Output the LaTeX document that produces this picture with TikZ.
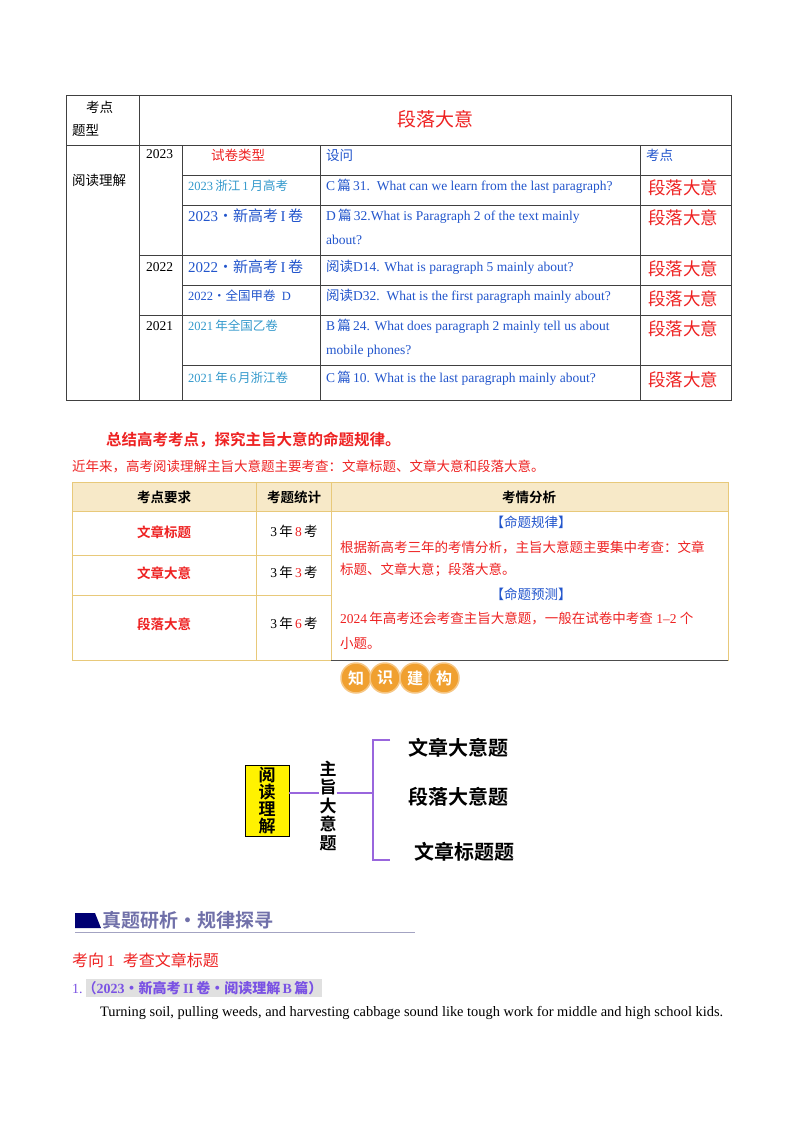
\documentclass[tikz,border=0pt]{standalone}
\usepackage{fontspec}
\setmainfont{Liberation Serif}
\newfontfamily\cjk{Noto Sans CJK SC}
\newfontfamily\cjkb{Noto Sans CJK SC Bold}
\definecolor{tblue}{HTML}{2255CC}
\definecolor{lblue}{HTML}{3399CC}
\definecolor{tred}{HTML}{EE2222}
\definecolor{tan}{HTML}{F7E9C8}
\definecolor{tanb}{HTML}{E8C97A}
\definecolor{purp}{HTML}{9966DD}
\definecolor{orng}{HTML}{F0A030}
\begin{document}
\begin{tikzpicture}[x=1pt,y=-1pt,
  g/.style={draw=black!75,line width=0.8pt},
  t/.style={anchor=west,inner sep=0pt,font=\cjk\fontsize{13.5}{16}\selectfont},
  kd/.style={anchor=west,inner sep=0pt,text=tred,font=\cjk\fontsize{17.5}{20}\selectfont},
  tb/.style={draw=tanb,line width=1pt},
  mm/.style={anchor=west,inner sep=0pt,font=\cjkb\fontsize{20}{22}\selectfont}]
\useasboundingbox (0,0) rectangle (800,1132);
\fill[white] (0,0) rectangle (800,1132);
% table 1
\draw[g] (66,95) rectangle (731,400);
\draw[g] (66,145) -- (731,145);
\draw[g] (139,95) -- (139,400);
\draw[g] (182,145) -- (182,400);
\draw[g] (320,145) -- (320,400);
\draw[g] (640,145) -- (640,400);
\foreach \y in {175,205,285,365} \draw[g] (182,\y) -- (731,\y);
\foreach \y in {255,315} \draw[g] (139,\y) -- (731,\y);
\node[t] (a1) at (86,107) {考点};
\node[t] (a2) at (72,130) {题型};
\node[t,text=tred,font=\cjk\fontsize{19}{21}\selectfont,anchor=center] (a3) at (435,119) {段落大意};
\node[t] (a4) at (72,180) {阅读理解};
\node[t,font=\rmfamily\fontsize{13.5}{16}\selectfont] (y1) at (146,154) {2023};
\node[t,font=\rmfamily\fontsize{13.5}{16}\selectfont] (y2) at (146,267) {2022};
\node[t,font=\rmfamily\fontsize{13.5}{16}\selectfont] (y3) at (146,326) {2021};
\node[t,text=tred] (h1) at (211,155) {试卷类型};
\node[t,text=tblue] (h2) at (326,155) {设问};
\node[t,text=tblue] (h3) at (646,155) {考点};
\node[t,text=lblue,font=\cjk\fontsize{12.5}{14}\selectfont] (r1) at (188,186) {\rmfamily 2023\,\cjk 浙江\,\rmfamily 1\,\cjk 月高考};
\node[t,text=tblue,font=\cjk\fontsize{15}{17}\selectfont] (r2) at (188,216) {\rmfamily 2023\cjk·新高考\rmfamily\,I\,\cjk 卷};
\node[t,text=tblue,font=\cjk\fontsize{15}{17}\selectfont] (r3) at (188,267) {\rmfamily 2022\cjk·新高考\rmfamily\,I\,\cjk 卷};
\node[t,text=tblue,font=\cjk\fontsize{12.5}{14}\selectfont] (r4) at (188,296) {\rmfamily 2022\cjk·全国甲卷\rmfamily\ \ D};
\node[t,text=lblue,font=\cjk\fontsize{12.5}{14}\selectfont] (r5) at (188,326) {\rmfamily 2021\,\cjk 年全国乙卷};
\node[t,text=lblue,font=\cjk\fontsize{12.5}{14}\selectfont] (r6) at (188,378) {\rmfamily 2021\,\cjk 年\rmfamily\,6\,\cjk 月浙江卷};
\begin{scope}[every node/.append style={text=tblue,font=\cjk\fontsize{13}{16}\selectfont}]
\node[t] (q1) at (326,186) {\rmfamily C\,\cjk 篇\,\rmfamily 31.\ \ What can we learn from the last paragraph?};
\node[t] (q2) at (326,216) {\rmfamily D\,\cjk 篇\,\rmfamily 32.What is Paragraph 2 of the text mainly};
\node[t] (q2b) at (326,240) {\rmfamily about?};
\node[t] (q3) at (326,267) {阅读\rmfamily D14. What is paragraph 5 mainly about?};
\node[t] (q4) at (326,296) {阅读\rmfamily D32.\ \ What is the first paragraph mainly about?};
\node[t] (q5) at (326,326) {\rmfamily B\,\cjk 篇\,\rmfamily 24. What does paragraph 2 mainly tell us about};
\node[t] (q5b) at (326,351) {\rmfamily mobile phones?};
\node[t] (q6) at (326,378) {\rmfamily C\,\cjk 篇\,\rmfamily 10. What is the last paragraph mainly about?};
\end{scope}
\foreach \y/\n in {188/k1,218/k2,269/k3,299/k4,329/k5,380/k6} \node[kd] (\n) at (648,\y) {段落大意};
% headings
\node[t,text=tred,font=\cjkb\fontsize{15.5}{18}\selectfont] (s1) at (106,440) {总结高考考点，探究主旨大意的命题规律。};
\node[t,text=tred] (s2) at (72,466) {近年来，高考阅读理解主旨大意题主要考查：文章标题、文章大意和段落大意。};
% table 2
\fill[tan] (72,482) rectangle (728,511);
\draw[tb] (72,482) rectangle (728,660);
\draw[tb] (256,482) -- (256,660);
\draw[tb] (331,482) -- (331,660);
\draw[tb] (72,511) -- (728,511);
\draw[tb] (72,555) -- (331,555);
\draw[tb] (72,595) -- (331,595);
\draw[black!70,line width=1pt] (331,660) -- (728,660);
\node[t,font=\cjkb\fontsize{13.5}{16}\selectfont,anchor=center] (c1) at (164,497) {考点要求};
\node[t,font=\cjkb\fontsize{13.5}{16}\selectfont,anchor=center] (c2) at (294,497) {考题统计};
\node[t,font=\cjkb\fontsize{13.5}{16}\selectfont,anchor=center] (c3) at (529,497) {考情分析};
\node[t,text=tred,font=\cjkb\fontsize{13.5}{16}\selectfont,anchor=center] (d1) at (164,532) {文章标题};
\node[t,text=tred,font=\cjkb\fontsize{13.5}{16}\selectfont,anchor=center] (d2) at (164,573) {文章大意};
\node[t,text=tred,font=\cjkb\fontsize{13.5}{16}\selectfont,anchor=center] (d3) at (164,624) {段落大意};
\node[t,anchor=center] (e1) at (294,531) {\rmfamily 3\,\cjk 年\,\rmfamily\textcolor{tred}{8}\,\cjk 考};
\node[t,anchor=center] (e2) at (294,572) {\rmfamily 3\,\cjk 年\,\rmfamily\textcolor{tred}{3}\,\cjk 考};
\node[t,anchor=center] (e3) at (294,623) {\rmfamily 3\,\cjk 年\,\rmfamily\textcolor{tred}{6}\,\cjk 考};
\node[t,text=tblue,anchor=center] (f1) at (531,522) {【命题规律】};
\node[t,text=tred] (f2) at (340,547) {根据新高考三年的考情分析，主旨大意题主要集中考查：文章};
\node[t,text=tred] (f3) at (340,570) {标题、文章大意；段落大意。};
\node[t,text=tblue,anchor=center] (f4) at (531,594) {【命题预测】};
\node[t,text=tred] (f5) at (340,618) {\rmfamily 2024\,\cjk 年高考还会考查主旨大意题，一般在试卷中考查\rmfamily\ 1--2\ \cjk 个};
\node[t,text=tred] (f6) at (340,643) {小题。};
% badges
\foreach \x/\c/\n in {356/知/b1,385/识/b2,415/建/b3,444/构/b4}{
  \node[circle,fill=orng,draw=orng!60,line width=1.5pt,minimum size=30pt,inner sep=0pt,text=white,font=\cjkb\fontsize{16}{16}\selectfont] (\n) at (\x,678) {\c};}
% mind map
\node[draw=black,fill=yellow,minimum width=44pt,minimum height=71pt,inner sep=0pt,align=center,font=\cjkb\fontsize{17}{17}\selectfont] (m1) at (267,801) {阅\\读\\理\\解};
\node[inner sep=0pt,align=center,font=\cjkb\fontsize{17}{18.5}\selectfont] (m2) at (328,806) {主\\旨\\大\\意\\题};
\coordinate (br) at (373,793);
\draw[purp,line width=1.5pt] (m1.east |- 0,793) -- (m2.west |- 0,793);
\draw[purp,line width=1.5pt] (m2.east |- 0,793) -- (br);
\draw[purp,line width=1.5pt] (390,740) -- (373,740) -- (373,860) -- (390,860);
\node[mm] (n1) at (408,748) {文章大意题};
\node[mm] (n2) at (408,797) {段落大意题};
\node[mm] (n3) at (414,852) {文章标题题};
% section header
\fill[blue!45!black] (75,913) -- (95,913) -- (101,928) -- (75,928) -- cycle;
\draw[blue!20!gray!60,line width=0.8pt] (75,932) -- (415,932);
\node[t,text=blue!25!gray!90,font=\cjkb\fontsize{19}{20}\selectfont] (sh) at (102,920) {真题研析·规律探寻};
\node[t,text=tred,font=\cjk\fontsize{16}{18}\selectfont] (kx) at (72,960) {考向\rmfamily\,1\ \ \cjk 考查文章标题};
\fill[black!12] (86,979) rectangle (322,997);
\node[t,text=purp!80!blue,font=\cjkb\fontsize{14}{16}\selectfont] (q) at (72,988) {\rmfamily 1.\cjkb（\rmfamily\bfseries 2023\cjkb·新高考\rmfamily\bfseries\,II\,\cjkb 卷·阅读理解\rmfamily\bfseries\,B\,\cjkb 篇）};
\node[t,font=\rmfamily\fontsize{14.4}{16}\selectfont] (body) at (100,1013) {Turning soil, pulling weeds, and harvesting cabbage sound like tough work for middle and high school kids.};
\end{tikzpicture}
\end{document}
